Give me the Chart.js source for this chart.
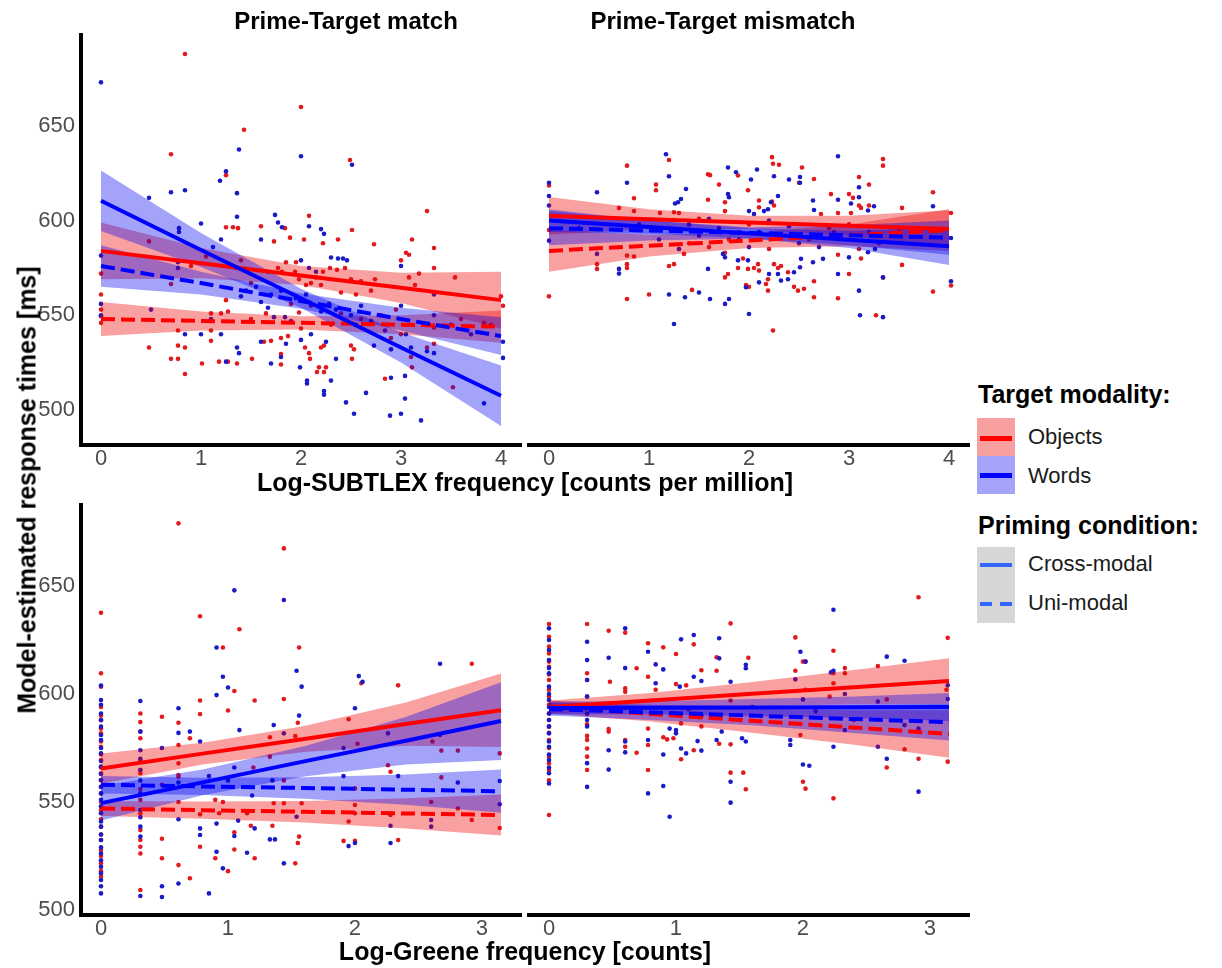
<!DOCTYPE html>
<html>
<head>
<meta charset="utf-8">
<script src="https://cdn.jsdelivr.net/npm/chart.js@4.4.1/dist/chart.umd.min.js"></script>
<style>
  body { margin: 0; background: #fff; }
  #fig { position: relative; width: 1222px; height: 968px; overflow: hidden; background: #fff;
         font-family: "Liberation Sans", Arial, sans-serif; }
  #fig canvas { position: absolute; }
  .t { position: absolute; white-space: nowrap; line-height: 1; transform: translate(-50%, -50%); }
  .b { font-weight: bold; color: #000; }
  .lab { position: absolute; white-space: nowrap; line-height: 1; transform: translateY(-50%); font-size: 22px; color: #1a1a1a; }
  .sw { position: absolute; }
</style>
</head>
<body>
<div id="fig">
  <canvas id="tl" width="526" height="480" style="left:0;top:0"></canvas>
  <canvas id="tr" width="449" height="480" style="left:524px;top:0"></canvas>
  <canvas id="bl" width="526" height="480" style="left:0;top:470px"></canvas>
  <canvas id="br" width="449" height="480" style="left:524px;top:470px"></canvas>

  <div class="t b" style="left:346px;top:21px;font-size:24px">Prime-Target match</div>
  <div class="t b" style="left:723px;top:21px;font-size:24px">Prime-Target mismatch</div>
  <div class="t b" style="left:525px;top:482px;font-size:25px">Log-SUBTLEX frequency [counts per million]</div>
  <div class="t b" style="left:525px;top:951px;font-size:25px">Log-Greene frequency [counts]</div>
  <div class="t b" style="left:27px;top:490px;font-size:25px;transform:translate(-50%,-50%) rotate(-90deg)">Model-estimated response times [ms]</div>

  <div class="b" style="position:absolute;left:978px;top:382px;font-size:25px;line-height:1">Target modality:</div>
  <div class="sw" style="left:977px;top:418px;width:38px;height:38px;background:#f8a0a0"></div>
  <div class="sw" style="left:977px;top:456px;width:38px;height:38px;background:#a3a3f8"></div>
  <div class="sw" style="left:980px;top:436px;width:32px;height:5px;background:#ff0000"></div>
  <div class="sw" style="left:980px;top:473px;width:32px;height:5px;background:#0000ff"></div>
  <div class="lab" style="left:1028px;top:437px">Objects</div>
  <div class="lab" style="left:1028px;top:476px">Words</div>

  <div class="b" style="position:absolute;left:978px;top:513px;font-size:25px;line-height:1">Priming condition:</div>
  <div class="sw" style="left:977px;top:547px;width:38px;height:76px;background:#d6d6d6"></div>
  <div class="sw" style="left:980px;top:563px;width:32px;height:4px;background:#3366ff"></div>
  <div class="sw" style="left:980px;top:602px;width:12px;height:4px;background:#3366ff"></div>
  <div class="sw" style="left:1000px;top:602px;width:12px;height:4px;background:#3366ff"></div>
  <div class="lab" style="left:1028px;top:564px">Cross-modal</div>
  <div class="lab" style="left:1028px;top:603px">Uni-modal</div>
</div>

<script>
const FONT = '"Liberation Sans", Arial, sans-serif'

// axes
const xTicksSubtlex = [0, 1, 2, 3, 4]
const xTicksGreene = [0, 1, 2, 3]
const yTicks = [500, 550, 600, 650]

// x positions where the fitted lines / bands were read
const fitXSubtlex = [0, 1, 2, 3, 4]
const fitXGreene = [0, 0.8, 1.6, 2.4, 3.15]

// ---- top left: Prime-Target match, Log-SUBTLEX ----
const tlObjCross = [584, 577.5, 571, 564.5, 558]
const tlObjCrossLo = [569, 569.5, 566, 556.5, 543]
const tlObjCrossHi = [599, 585.5, 576, 572.5, 573]
const tlObjUni = [548, 547, 546, 545, 544]
const tlObjUniLo = [539, 542, 542.5, 540, 535.5]
const tlObjUniHi = [557, 552, 549.5, 550, 552.5]
const tlWordCross = [610.5, 584.5, 559, 533, 507.5]
const tlWordCrossLo = [594.5, 575.5, 554, 525, 491.5]
const tlWordCrossHi = [626.5, 593.5, 564, 541, 523.5]
const tlWordUni = [576, 567, 557.5, 548, 539]
const tlWordUniLo = [565, 561, 553.5, 542, 529]
const tlWordUniHi = [587, 573, 561.5, 554, 549]

const tlObjPts = [[0.84,688],[2.0,660],[1.43,648],[0.70,635],[2.49,632],[1.25,624],[3.26,605],[2.08,602.5],[0.48,589],
  [1.25,596.5],[1.32,596.5],[1.37,596],[1.6,597],[1.84,596],[1.89,591],[1.73,589],[2.03,590],[2.22,588],[2.37,590],
  [2.51,595],[2.73,587.5],[3.11,590],[3.05,583],[3.0,579],[3.08,582],[3.33,585.5],[3.54,570],[3.18,572],[3.08,570],
  [3.14,566],[3.33,575],[4.0,560],[4.02,555],[3.83,546],[1.67,573],[1.77,575],[1.81,573],[1.94,573],[1.98,569],
  [2.1,567],[2.15,570],[2.22,573],[2.29,575],[2.36,574],[2.44,575],[2.5,569],[2.6,568],[2.7,563],[2.74,569],[1.85,578],
  [1.95,578],[2.05,566],[2.2,566],[2.4,562],[2.55,561],[1.5,567],[1.4,579],[0.9,576],[1.05,581],[1.35,575],
  [0,572],[0,561],[0,553],[0,549.5],[0,546],[0.48,533],[0.7,566.5],[0.7,527],[0.77,527],[0.77,534],[0.84,519],
  [0.84,533],[0.77,542],[1.01,524.5],[1.1,551],[1.1,542],[1.1,536.5],[1.18,525.5],[1.27,525.5],[1.2,551],[1.25,558],
  [1.27,552],[1.36,524.5],[1.51,527],[1.63,536],[1.7,536.5],[1.8,538],[1.8,529.5],[1.8,524],[1.87,539],[1.98,551.5],
  [2.0,543],[2.04,533],[2.08,530],[2.09,527],[2.16,520],[2.18,522.5],[2.23,520],[2.25,522.5],[2.2,533],[2.23,534],
  [2.5,534],[2.53,532],[2.51,527],[2.84,516.5],[3.11,522.5],[3.26,533],[3.33,535],[3.52,512],[2.9,538],[3.0,540],
  [3.1,528],[3.33,543.5],[2.6,548],[2.8,550],[2.95,553],[1.5,548],[1.65,551],[2.3,545],[2.4,551],[2.1,555],[1.9,556],
  [3.6,548],[3.9,545]]
const tlWordPts = [[0,673],[2.0,634],[1.38,637.5],[2.51,629.5],[1.25,626],[1.19,621],[0.7,615],[0.84,616],[0.48,612],
  [1.36,614.5],[1.0,598.5],[0.78,596],[0.78,594],[1.36,602],[1.74,603],[1.77,599],[1.81,596.5],[1.6,590],[1.2,590],
  [1.12,586],[2.08,597],[2.2,595.5],[2.23,593],[2.3,580.5],[2.37,580],[2.42,580],[2.46,579],[3.0,576],[0,581.5],
  [0.77,578],[0.77,575],[0,556],[0,550],[0.84,540],[1.0,540],[1.36,533],[1.38,530],[1.25,525.5],[1.6,536],[1.7,524.5],
  [1.8,528],[1.99,522.5],[2.06,515.5],[2.06,514],[2.23,510],[2.23,508],[2.3,515.5],[2.45,504],[2.53,498],[2.65,509],
  [2.89,497],[3.0,498],[3.2,494.5],[3.04,506],[3.83,503.5],[2.9,517],[3.04,518],[4.02,536],[4.02,527.5],[3.33,530],
  [3.26,531],[3.1,533],[3.0,555],[3.05,540],[2.9,532],[2.84,542],[2.73,534],[3.33,550],[3.33,561],[2.0,579],[2.08,575],
  [2.15,573],[1.6,557],[1.67,554],[1.73,549],[1.84,549],[1.9,547],[1.4,560],[1.45,563],[1.55,565],[1.7,561],[1.8,563],
  [1.95,559],[2.05,561],[2.1,556],[2.2,552],[2.28,556],[2.35,553],[2.5,550],[2.55,545],[2.6,555],[2.7,547],[1.1,548],
  [1.2,540],[0.5,553],[1.85,535],[2.0,537],[2.1,540],[2.25,536],[2.35,527],[3.5,545],[3.7,540]]

// ---- top right: Prime-Target mismatch, Log-SUBTLEX ----
const trObjCross = [602.5, 600.75, 599, 597.25, 595.5]
const trObjCrossLo = [592.5, 595.5, 595.5, 592, 585.5]
const trObjCrossHi = [612.5, 606, 602.5, 602.5, 605.5]
const trObjUni = [584, 586.75, 589.5, 592.25, 595]
const trObjUniLo = [573, 581, 585.5, 586.5, 584]
const trObjUniHi = [595, 592.5, 593.5, 598, 606]
const trWordCross = [600, 596.6, 593.25, 589.9, 586.5]
const trWordCrossLo = [594, 593, 590.5, 585.5, 576.5]
const trWordCrossHi = [606, 600, 596, 594.5, 596.5]
const trWordUni = [596, 594.75, 593.5, 592.25, 591]
const trWordUniLo = [587, 589.5, 590.5, 587, 582]
const trWordUniHi = [605, 600, 596.5, 597.5, 600]

const trObjPts = [[2.23,633.5],[3.34,632.5],[3.34,629],[1.2,632],[0.78,629],[2.24,630],[2.3,629.5],[2.53,628],[1.59,624.5],
  [1.61,624],[1.89,623.8],[1.07,619],[1.07,616],[1.7,619],[2.5,620],[2.65,622],[3.1,623],[3.2,619],[0,618.5],[2.82,614],
  [3.0,614],[3.04,612],[3.84,615],[0.85,611.8],[1.59,611],[1.76,609.7],[1.76,605],[1.99,616],[2.1,610.6],[2.1,607],
  [2.23,610],[2.25,608],[3.1,608],[3.12,606.7],[3.2,608],[3.53,606.7],[4.02,604],[0.7,606.7],[0.85,605],[1.11,604],
  [1.25,604.4],[1.3,604],[2.72,603.5],[2.89,604],[3.02,604],[1.5,601],[1.59,600],[0.78,581.5],[0.78,577],[0.78,575],
  [0.48,577],[0.48,574.5],[0.85,581],[1.2,576],[1.25,577],[1.3,585],[1.35,582.4],[0,560],[0.78,558.6],[1.0,561],
  [1.43,563.4],[1.76,570],[1.79,571.8],[1.76,583],[1.89,575],[1.94,580],[1.99,574.5],[2.05,575],[2.09,577],[2.1,573.6],
  [2.19,569],[2.19,563],[2.17,566.5],[2.24,542],[2.25,577],[2.29,575],[2.32,576],[2.39,572.7],[2.45,565],[2.49,563],
  [2.55,564],[2.65,568],[2.65,559.5],[2.89,559],[2.89,582],[3.0,571.8],[3.1,585],[3.12,580],[3.27,550],[3.34,570],
  [3.53,576.6],[3.84,562.5],[4.02,565.7],[1.97,566],[2.0,565],[1.8,590],[1.9,594],[2.0,598],[2.3,592],[2.6,590],
  [1.4,588],[1.2,596],[0,595],[2.8,596],[3.3,588],[1.6,586],[2.2,585],[3.0,598]]
const trWordPts = [[1.17,635],[2.89,634],[1.2,623.4],[0.78,620],[0,620],[0.48,615],[1.79,628],[1.87,625.5],[2.08,627],
  [2.02,621.7],[2.25,623.4],[2.51,623],[2.51,620],[2.4,621.7],[1.29,609.7],[1.32,611.4],[1.37,616.7],[1.26,609],
  [1.79,614],[1.8,612.3],[2.0,605],[2.05,603.5],[2.15,605],[2.19,606],[2.29,613],[2.22,609.7],[2.64,610.6],[2.65,605.6],
  [2.89,611],[3.02,609],[3.1,617.6],[3.1,612.3],[3.19,605.3],[3.25,607.6],[3.84,607.6],[0,613],[0,608],[0,589.4],
  [0.48,582.4],[0.7,574.5],[0.7,572],[1.2,561],[1.36,559.5],[1.25,545.4],[1.5,562],[1.61,558.6],[1.59,574.5],[1.76,556],
  [1.8,558.6],[1.74,582.4],[1.76,580.6],[1.89,579],[1.99,579],[1.97,564.8],[2.0,550.7],[2.1,567.4],[2.2,571.8],
  [2.29,571.8],[2.32,568.3],[2.39,569],[2.45,572.7],[2.52,579.8],[2.51,575.4],[2.64,578],[2.74,579.8],[2.89,571.8],
  [3.1,563],[3.11,550],[3.34,570],[3.34,549],[3.0,580.6],[3.26,585],[3.19,583.3],[4.02,568],[4.02,590.8],[1.4,598],
  [1.5,592],[1.7,596],[1.9,590],[2.1,594],[2.4,597],[2.7,586],[1.1,590],[0.9,598],[1.6,601],[2.2,600],[2.5,588],
  [3.2,594],[0.3,596],[1.3,585],[2.0,586],[2.85,594],[3.5,596]]

// ---- bottom left: Prime-Target match, Log-Greene ----
const blObjCross = [565.5, 572.4, 579.2, 586.1, 592.5]
const blObjCrossLo = [558.5, 567.4, 573.2, 576.1, 575.5]
const blObjCrossHi = [572.5, 577.4, 585.2, 596.1, 609.5]
const blObjUni = [547, 546.2, 545.5, 544.7, 544]
const blObjUniLo = [543.5, 542.2, 540.5, 537.7, 534.5]
const blObjUniHi = [550.5, 550.2, 550.5, 551.7, 553.5]
const blWordCross = [549.5, 559.1, 568.8, 578.4, 587.5]
const blWordCrossLo = [541.5, 553.1, 561.8, 567.4, 569.5]
const blWordCrossHi = [557.5, 565.1, 575.8, 589.4, 605.5]
const blWordUni = [558, 557.2, 556.5, 555.7, 555]
const blWordUniLo = [554, 553.2, 551.5, 548.7, 545]
const blWordUniHi = [562, 561.2, 561.5, 562.7, 565]

const blObjPts = [[0.61,679],[1.44,667.4],[0,637.6],[0.78,636],[1.09,630],[0.96,621.5],[1.56,621.5],[2.92,614],[2.34,604],
  [2.05,605],[1.05,601.4],[0.78,597],[0.78,590.7],[1.21,597],[1.44,597.7],[1.0,592.4],[0.48,589.5],[0.31,591],[0.31,587],
  [0.31,582.6],[0.31,579.5],[0.31,569.4],[0.31,564.8],[0.31,563.3],[0.61,586.7],[0.61,576.4],[0.61,567.9],[0.61,562.5],
  [0.7,579.5],[1.95,588.3],[1.55,586.7],[1.33,580],[1.33,571],[1.53,580.5],[2.61,578],[2.68,573.8],[2.81,573.8],
  [3.14,572.5],[2.26,567],[2.28,564],[2.68,561.4],[2.02,577],[0,609.6],[0,603.4],[0,594],[0,587.9],[0,581.8],[0,575.6],
  [0,569.4],[0,563.3],[0,554],[0,546.3],[0,538.6],[0,532.4],[0,527.8],[0,521.6],[0,515.4],[0,590],[0,584],[0,578],
  [0,572],[0,566],[0,560],[0,557],[0,550],[0,542],[0,535],[0,525],[0,518],[0.31,544.8],[0.31,537],[0.31,532.4],
  [0.31,529.3],[0.31,526.2],[0.31,509.3],[0.31,551],[0.31,556],[0.48,533],[0.48,524],[0.61,520.8],[0.7,514.7],
  [0.78,529.3],[0.9,524],[1.0,518],[1.05,528],[1.05,536],[1.21,524],[1.18,539],[1.35,539],[1.53,521.6],[1.55,531],
  [1.56,534],[1.36,549.4],[1.44,549.4],[1.58,549.4],[1.95,541],[2.0,532],[1.91,532],[2.34,532.4],[2.28,544],[2.6,550],
  [2.81,547],[2.92,541.7],[3.14,538],[2.0,556.3],[2.0,548.6],[2.0,544.8],[0.9,551],[0.93,544.8],[0.96,550],[1.15,544.8],
  [0.61,561.7],[0.61,550],[0.78,544.3],[0.48,558],[1.2,566],[1.44,560]]
const blWordPts = [[1.05,648],[1.44,643.5],[0.91,621.5],[0.91,599.5],[0.96,608],[1.0,603],[1.54,610.8],[1.58,603.4],
  [2.03,608.3],[2.06,605.7],[2.67,614],[2.0,593.4],[0,603.9],[0,597.2],[0,591],[0,584.9],[0,578.7],[0,572.5],[0,566.4],
  [0,560.2],[0,557.1],[0,551],[0,544.8],[0,538.6],[0,532.4],[0,526.2],[0,520],[0,513.9],[0,507.7],[0,595],[0,588],
  [0,581],[0,575],[0,569],[0,563],[0,554],[0,548],[0,541],[0,535],[0,529],[0,523],[0,517],[0,511],[0.31,596.8],
  [0.31,582.6],[0.31,574],[0.31,564.8],[0.31,554],[0.31,546.3],[0.31,538.6],[0.31,534],[0.31,506.5],[0.31,560],
  [0.31,570],[0.31,543],[0.48,511],[0.48,506],[0.48,575],[0.61,593.4],[0.61,582],[0.61,542],[0.61,512.3],[0.61,559],
  [0.7,582.6],[0.78,578],[0.78,537.8],[0.78,534.7],[0.85,507.7],[0.91,540],[0.91,527],[0.96,519.3],[1.08,541.4],
  [1.09,583.3],[1.05,534.3],[1.15,526.5],[1.21,537.8],[1.19,553],[1.33,532.7],[1.37,532.7],[1.44,521.6],[1.36,585.6],
  [1.44,581.8],[1.35,560],[1.56,590],[1.54,543.2],[1.91,562],[1.95,529.6],[2.0,531],[1.91,575],[2.28,531],[2.34,562],
  [2.26,581.8],[2.6,541.7],[2.6,538.6],[2.81,559],[3.14,559.7],[3.14,549],[2.28,539],[2.67,581],[1.0,560],[1.05,566],
  [0.85,562]]

// ---- bottom right: Prime-Target mismatch, Log-Greene ----
const brObjCross = [594, 597, 600.1, 603.1, 606]
const brObjCrossLo = [591, 593.5, 594.6, 595.1, 595.5]
const brObjCrossHi = [597, 600.5, 605.6, 611.1, 616.5]
const brObjUni = [594, 590.8, 587.6, 584.5, 581.5]
const brObjUniLo = [591, 587.3, 582.1, 576.5, 570.5]
const brObjUniHi = [597, 594.3, 593.1, 592.5, 592.5]
const brWordCross = [593.5, 593.6, 593.7, 593.9, 594]
const brWordCrossLo = [590.5, 590.6, 589.7, 588.9, 587.5]
const brWordCrossHi = [596.5, 596.6, 597.7, 598.9, 600.5]
const brWordUni = [593, 591.5, 590, 588.4, 587]
const brWordUniLo = [590, 588, 585.5, 581.9, 578.5]
const brWordUniHi = [596, 595, 594.5, 594.9, 595.5]

const brObjPts = [[2.91,644.8],[1.43,632.7],[0,632.4],[0.3,632.4],[0.47,629.3],[0.6,628.4],[3.14,626],[1.94,626.2],
  [2.24,620],[0.78,623.5],[0.9,621.6],[1.0,618.5],[1.14,623],[1.32,617],[1.57,616.8],[2.59,613],[2.33,612],[2.0,615],
  [1.2,611],[0.69,611.9],[1.32,610.8],[1.94,610.8],[0.78,608],[0.84,602],[1.0,604.6],[1.08,604],[0.48,605.7],[0.6,602.6],
  [0.6,601],[0.3,609.6],[0.3,606.5],[0.3,598.8],[0.3,591],[0,626.5],[0,618.8],[0,612.6],[0,606.5],[0,598.8],[0,591],
  [0,584.9],[0,578.7],[0,571],[0,564.8],[0,560],[0,544],[0,622],[0,615],[0,609],[0,602],[0,595],[0,588],[0,582],
  [0,575],[0,568],[2.24,609.6],[2.21,598.8],[2.24,605],[2.33,609.6],[2.02,615],[2.02,602],[3.13,602],[2.66,597.5],
  [1.43,597],[0.47,583.8],[0.47,582.6],[0.6,578.7],[0.6,575.6],[0.78,584],[0.78,576.4],[0.9,580],[0.93,579],[0.98,579.5],
  [1.04,586.4],[1.04,569.8],[1.14,574],[1.2,585],[1.34,577],[1.43,576.7],[1.43,563.6],[1.53,563.6],[1.55,555.9],
  [0.69,572.8],[0.78,564.8],[1.98,581],[2.0,559.4],[2.02,556.2],[2.24,551.7],[2.66,566],[2.8,574.4],[2.91,570],
  [3.14,568.7],[0.3,580.6],[0.3,578.7],[0.3,574.8],[0.3,571],[0.3,564.8],[0.3,586],[1.1,593],[1.6,590],[2.4,588]]
const brWordPts = [[2.24,639],[0,630.4],[0,625],[0,620.4],[0,615.7],[0,609.6],[0,603.4],[0,597.2],[0,591],[0,588],
  [0,581.8],[0,575.6],[0,569.4],[0,563.3],[0,558.6],[0,612],[0,600],[0,594],[0,585],[0,578],[0,572],[0,566],[0.6,630.4],
  [1.14,627.3],[1.04,625.3],[1.34,625.8],[0.78,619.6],[0.47,616.8],[0.3,624.2],[0.3,615.7],[0.3,606.5],[0.3,598.8],
  [0.3,591],[0.3,585],[0.3,568],[0.3,557],[0.3,595],[0.3,588],[0.6,612],[0.84,613.7],[0.9,611.4],[1.03,603.4],[1.14,608],
  [1.2,606],[1.34,616.5],[1.55,611.9],[1.55,613.5],[1.43,605.7],[1.98,619.6],[2.02,615],[2.66,617.3],[2.8,615.4],
  [2.24,610.8],[2.22,610],[2.33,600],[3.14,604],[3.14,597.7],[2.0,597.5],[1.94,606.8],[2.59,596.5],[0.6,578],[0.6,573],
  [0.47,574],[0.47,565],[0.78,578.7],[0.78,554],[0.84,605],[0.9,572],[0.9,557.4],[0.95,584],[1.0,583.3],[1.0,581.8],
  [1.04,574.8],[1.08,572.5],[1.17,578.2],[1.2,573.8],[0.95,543.2],[1.32,578.7],[1.36,582.6],[1.43,559.4],[1.43,549.7],
  [1.52,579.5],[1.55,578],[1.9,578.7],[1.9,576.4],[2.0,567.4],[2.05,566.8],[2.24,575.6],[2.33,583.3],[2.59,575.6],
  [2.66,570],[2.8,585.6],[2.91,554.8],[2.91,584],[1.2,590],[1.6,594],[2.1,592]]

const RED = 'rgb(255,0,0)'
const BLUE = 'rgb(0,0,255)'
const RED_FILL = 'rgba(240,0,0,0.37)'
const BLUE_FILL = 'rgba(0,0,240,0.36)'
const RED_PT = 'rgb(226,26,30)'
const BLUE_PT = 'rgb(26,26,200)'

const xy = (xs, ys) => xs.map((x, i) => ({ x, y: ys[i] }))
const pts = (arr) => arr.map(([x, y]) => ({ x, y }))

function buildDatasets(fitX, objPts, wordPts, fits) {
  const ds = []
  // fitted lines first so they end up on top
  fits.forEach((f) => {
    ds.push({
      type: 'line', data: xy(fitX, f.mid), borderColor: f.word ? BLUE : RED, borderWidth: 4,
      borderDash: f.dashed ? [14, 6] : [], pointRadius: 0, fill: false, order: 1,
    })
  })
  // confidence bands: lower edge, then upper edge filled back to it
  fits.forEach((f) => {
    ds.push({ type: 'line', data: xy(fitX, f.lo), borderColor: 'transparent', borderWidth: 0, pointRadius: 0, fill: false, order: 2 })
    ds.push({
      type: 'line', data: xy(fitX, f.hi), borderColor: 'transparent', borderWidth: 0, pointRadius: 0,
      fill: '-1', backgroundColor: f.word ? BLUE_FILL : RED_FILL, order: 2,
    })
  })
  ds.push({ type: 'scatter', data: pts(wordPts), backgroundColor: BLUE_PT, borderWidth: 0, pointRadius: 2.3, order: 3 })
  ds.push({ type: 'scatter', data: pts(objPts), backgroundColor: RED_PT, borderWidth: 0, pointRadius: 2.3, order: 3 })
  return ds
}

function panel(id, datasets, xr, xTicks, yr, showY, padding) {
  new Chart(document.getElementById(id), {
    type: 'scatter',
    data: { datasets },
    options: {
      responsive: false,
      animation: false,
      devicePixelRatio: 1,
      events: [],
      layout: { padding },
      elements: { line: { tension: 0 } },
      plugins: { legend: { display: false }, tooltip: { enabled: false } },
      scales: {
        x: {
          type: 'linear', min: xr[0], max: xr[1],
          grid: { display: false, drawTicks: false },
          border: { display: true, color: '#000', width: 4 },
          ticks: { color: '#4d4d4d', font: { family: FONT, size: 22 }, padding: 1, callback: (v) => v },
          afterBuildTicks: (s) => { s.ticks = xTicks.map((v) => ({ value: v })) },
          afterFit: (s) => { s.height = 35 },
        },
        y: {
          type: 'linear', min: yr[0], max: yr[1], display: showY,
          grid: { display: false, drawTicks: false },
          border: { display: true, color: '#000', width: 4 },
          ticks: { color: '#4d4d4d', font: { family: FONT, size: 22 }, padding: 6, callback: (v) => v },
          afterBuildTicks: (s) => { s.ticks = yTicks.map((v) => ({ value: v })) },
          // hidden y axis on the right-hand facets must take no room
          afterFit: (s) => { s.width = showY ? 81 : 0 },
        },
      },
    },
  })
}

const fits = (oc, ocl, och, ou, oul, ouh, wc, wcl, wch, wu, wul, wuh) => [
  { mid: wc, lo: wcl, hi: wch, word: true, dashed: false },
  { mid: wu, lo: wul, hi: wuh, word: true, dashed: true },
  { mid: oc, lo: ocl, hi: och, word: false, dashed: false },
  { mid: ou, lo: oul, hi: ouh, word: false, dashed: true },
]

const topY = [481.5, 698]
const botY = [497.7, 687.5]
const subX = [-0.2, 4.2]
const greX = [-0.1575, 3.3075]

panel('tl', buildDatasets(fitXSubtlex, tlObjPts, tlWordPts,
  fits(tlObjCross, tlObjCrossLo, tlObjCrossHi, tlObjUni, tlObjUniLo, tlObjUniHi,
    tlWordCross, tlWordCrossLo, tlWordCrossHi, tlWordUni, tlWordUniLo, tlWordUniHi)),
  subX, xTicksSubtlex, topY, true, { top: 35, right: 5, bottom: 0, left: 0 })

panel('tr', buildDatasets(fitXSubtlex, trObjPts, trWordPts,
  fits(trObjCross, trObjCrossLo, trObjCrossHi, trObjUni, trObjUniLo, trObjUniHi,
    trWordCross, trWordCrossLo, trWordCrossHi, trWordUni, trWordUniLo, trWordUniHi)),
  subX, xTicksSubtlex, topY, false, { top: 35, right: 4, bottom: 0, left: 5 })

panel('bl', buildDatasets(fitXGreene, blObjPts, blWordPts,
  fits(blObjCross, blObjCrossLo, blObjCrossHi, blObjUni, blObjUniLo, blObjUniHi,
    blWordCross, blWordCrossLo, blWordCrossHi, blWordUni, blWordUniLo, blWordUniHi)),
  greX, xTicksGreene, botY, true, { top: 35, right: 5, bottom: 0, left: 0 })

panel('br', buildDatasets(fitXGreene, brObjPts, brWordPts,
  fits(brObjCross, brObjCrossLo, brObjCrossHi, brObjUni, brObjUniLo, brObjUniHi,
    brWordCross, brWordCrossLo, brWordCrossHi, brWordUni, brWordUniLo, brWordUniHi)),
  greX, xTicksGreene, botY, false, { top: 35, right: 4, bottom: 0, left: 5 })
</script>
</body>
</html>
